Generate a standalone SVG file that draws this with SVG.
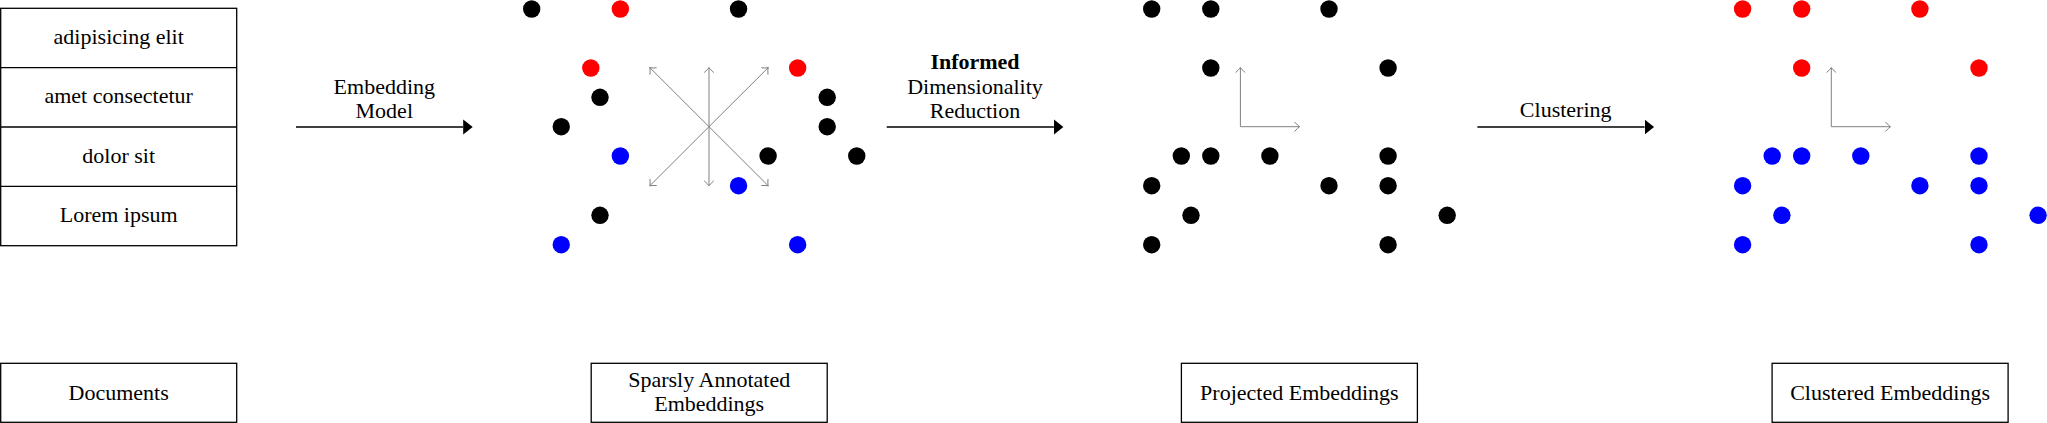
<svg xmlns="http://www.w3.org/2000/svg" width="2047" height="423" viewBox="0 0 2047 423">
<defs>
<style>
.box{fill:#fff;stroke:#000;stroke-width:1.3}
.t{font-family:'Liberation Serif','Times New Roman','DejaVu Serif',serif;font-size:22px;fill:#000;text-anchor:middle}
.b{font-weight:bold}
.k{fill:#000}
.r{fill:#ff0000}
.u{fill:#0000ff}
.ax{stroke:#808080;stroke-width:1;fill:none;marker-start:url(#g);marker-end:url(#g)}
.ax1{stroke:#808080;stroke-width:1;fill:none;marker-end:url(#g)}
.ar{stroke:#000;stroke-width:1.3;fill:none;marker-end:url(#h)}
</style>
<marker id="g" markerUnits="userSpaceOnUse" viewBox="-6 -6 8 12" refX="0" refY="0" markerWidth="8" markerHeight="12" orient="auto-start-reverse">
<path d="M-4.5,-4.5 Q-1.5,-1 0.3,0 Q-1.5,1 -4.5,4.5" fill="none" stroke="#808080" stroke-width="1" stroke-linecap="round"/>
</marker>
<marker id="h" markerUnits="userSpaceOnUse" viewBox="0 -8 10 16" refX="0" refY="0" markerWidth="10" markerHeight="16" orient="auto">
<path d="M0,-7.5 L9.5,0 L0,7.5 z" fill="#000"/>
</marker>
</defs>

<g id="documents-table" font-family="Liberation Serif, serif">
<rect class="box" x="0.7" y="8.3" width="236" height="237.4"/>
<line x1="0.7" y1="67.6" x2="236.7" y2="67.6" stroke="#000" stroke-width="1.3"/>
<line x1="0.7" y1="127" x2="236.7" y2="127" stroke="#000" stroke-width="1.3"/>
<line x1="0.7" y1="186.3" x2="236.7" y2="186.3" stroke="#000" stroke-width="1.3"/>
<text class="t" x="118.7" y="44">adipisicing elit</text>
<text class="t" x="118.7" y="103.3">amet consectetur</text>
<text class="t" x="118.7" y="162.6">dolor sit</text>
<text class="t" x="118.7" y="222">Lorem ipsum</text>
</g>

<g id="sparse-plot">
<circle class="k" cx="531.7" cy="9" r="8.7"/>
<circle class="r" cx="620.35" cy="9" r="8.7"/>
<circle class="k" cx="738.55" cy="9" r="8.7"/>
<circle class="r" cx="590.8" cy="68" r="8.7"/>
<circle class="r" cx="797.65" cy="68" r="8.7"/>
<circle class="k" cx="600" cy="97.3" r="8.7"/>
<circle class="k" cx="827.2" cy="97.3" r="8.7"/>
<circle class="k" cx="561.25" cy="126.7" r="8.7"/>
<circle class="k" cx="827.2" cy="126.7" r="8.7"/>
<circle class="u" cx="620.35" cy="156" r="8.7"/>
<circle class="k" cx="768.1" cy="156" r="8.7"/>
<circle class="k" cx="856.75" cy="156" r="8.7"/>
<circle class="u" cx="738.55" cy="185.7" r="8.7"/>
<circle class="k" cx="600" cy="215.3" r="8.7"/>
<circle class="u" cx="561.25" cy="244.7" r="8.7"/>
<circle class="u" cx="797.65" cy="244.7" r="8.7"/>
<line class="ax" x1="650" y1="67.8" x2="768" y2="185.6"/>
<line class="ax" x1="768" y1="67.8" x2="650" y2="185.6"/>
<line class="ax" x1="709" y1="67.8" x2="709" y2="185.6"/>
</g>

<g id="projected-plot">
<circle class="k" cx="1151.7" cy="9" r="8.7"/>
<circle class="k" cx="1210.8" cy="9" r="8.7"/>
<circle class="k" cx="1329" cy="9" r="8.7"/>
<circle class="k" cx="1210.8" cy="68" r="8.7"/>
<circle class="k" cx="1388.1" cy="68" r="8.7"/>
<circle class="k" cx="1181.3" cy="156" r="8.7"/>
<circle class="k" cx="1210.8" cy="156" r="8.7"/>
<circle class="k" cx="1269.9" cy="156" r="8.7"/>
<circle class="k" cx="1388.1" cy="156" r="8.7"/>
<circle class="k" cx="1151.7" cy="185.7" r="8.7"/>
<circle class="k" cx="1329" cy="185.7" r="8.7"/>
<circle class="k" cx="1388.1" cy="185.7" r="8.7"/>
<circle class="k" cx="1191" cy="215.3" r="8.7"/>
<circle class="k" cx="1447.2" cy="215.3" r="8.7"/>
<circle class="k" cx="1151.7" cy="244.7" r="8.7"/>
<circle class="k" cx="1388.1" cy="244.7" r="8.7"/>
<polyline class="ax1" points="1240.4,126.7 1240.4,67.8"/>
<polyline class="ax1" points="1240.4,126.7 1299.3,126.7"/>
</g>

<g id="clustered-plot">
<circle class="r" cx="1742.6" cy="9" r="8.7"/>
<circle class="r" cx="1801.7" cy="9" r="8.7"/>
<circle class="r" cx="1919.9" cy="9" r="8.7"/>
<circle class="r" cx="1801.7" cy="68" r="8.7"/>
<circle class="r" cx="1979" cy="68" r="8.7"/>
<circle class="u" cx="1772.2" cy="156" r="8.7"/>
<circle class="u" cx="1801.7" cy="156" r="8.7"/>
<circle class="u" cx="1860.8" cy="156" r="8.7"/>
<circle class="u" cx="1979" cy="156" r="8.7"/>
<circle class="u" cx="1742.6" cy="185.7" r="8.7"/>
<circle class="u" cx="1919.9" cy="185.7" r="8.7"/>
<circle class="u" cx="1979" cy="185.7" r="8.7"/>
<circle class="u" cx="1781.9" cy="215.3" r="8.7"/>
<circle class="u" cx="2038.1" cy="215.3" r="8.7"/>
<circle class="u" cx="1742.6" cy="244.7" r="8.7"/>
<circle class="u" cx="1979" cy="244.7" r="8.7"/>
<polyline class="ax1" points="1831.3,126.7 1831.3,67.8"/>
<polyline class="ax1" points="1831.3,126.7 1890.2,126.7"/>
</g>

<g id="connectors">
<line class="ar" x1="296" y1="127" x2="463.2" y2="127"/>
<text class="t" x="384.3" y="94.3">Embedding</text>
<text class="t" x="384.3" y="118.3">Model</text>
<line class="ar" x1="886.7" y1="127" x2="1053.9" y2="127"/>
<text class="t b" x="975" y="69">Informed</text>
<text class="t" x="975" y="93.5">Dimensionality</text>
<text class="t" x="975" y="118">Reduction</text>
<line class="ar" x1="1477.4" y1="127" x2="1644.6" y2="127"/>
<text class="t" x="1565.7" y="117">Clustering</text>
</g>

<g id="label-documents">
<rect class="box" x="0.7" y="363.3" width="236" height="59"/>
<text class="t" x="118.7" y="399.8">Documents</text>
</g>
<g id="label-sparse">
<rect class="box" x="591.2" y="363.3" width="236" height="59"/>
<text class="t" x="709.2" y="386.5">Sparsly Annotated</text>
<text class="t" x="709.2" y="410.5">Embeddings</text>
</g>
<g id="label-projected">
<rect class="box" x="1181.4" y="363.3" width="236" height="59"/>
<text class="t" x="1299.4" y="399.8">Projected Embeddings</text>
</g>
<g id="label-clustered">
<rect class="box" x="1772.1" y="363.3" width="236" height="59"/>
<text class="t" x="1890.1" y="399.8">Clustered Embeddings</text>
</g>
</svg>
